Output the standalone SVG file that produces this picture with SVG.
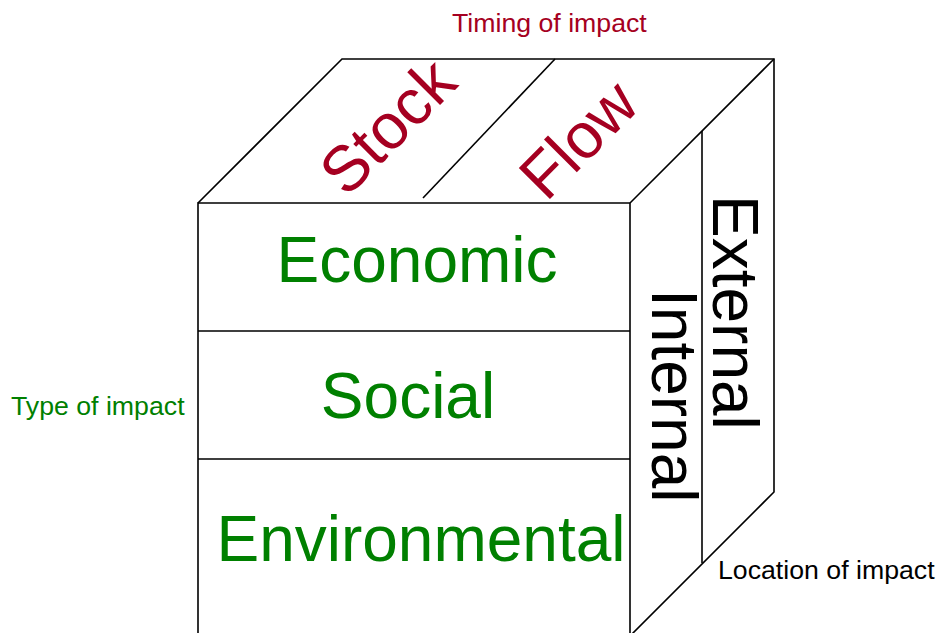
<svg xmlns="http://www.w3.org/2000/svg" width="937" height="633" viewBox="0 0 937 633">
<style>
.edge{fill:none;stroke:#000;stroke-width:1.6;stroke-linejoin:miter}
.big{font-family:"Liberation Sans",Arial,sans-serif;font-size:64px}
.small{font-family:"Liberation Sans",Arial,sans-serif;font-size:26.7px}
.red{fill:#a50021}
.green{fill:#008000}
.black{fill:#000}
</style>
<rect width="937" height="633" fill="#fff"/>
<g id="cube">
<path class="edge" d="M198,633 V203 H630 V633"/>
<path class="edge" d="M198,203 L342,59 H774 V492 L631,635"/>
<path class="edge" d="M630,203 L774,59"/>
<path class="edge" d="M555,59 L423,198"/>
<path class="edge" d="M702,131 V563"/>
<path class="edge" d="M198,331 H630 M198,459 H630"/>
</g>
<g id="timing-axis">
<text class="small red" x="452" y="32">Timing of impact</text>
<text class="big red" text-anchor="middle" transform="translate(403,142) rotate(-45)">Stock</text>
<text class="big red" text-anchor="middle" transform="translate(594,155) rotate(-45)">Flow</text>
</g>
<g id="type-axis">
<text class="small green" x="11" y="415">Type of impact</text>
<text class="big green" text-anchor="middle" x="417" y="282">Economic</text>
<text class="big green" text-anchor="middle" x="408" y="418">Social</text>
<text class="big green" text-anchor="middle" x="421" y="561">Environmental</text>
</g>
<g id="location-axis">
<text class="small black" x="718" y="579">Location of impact</text>
<text class="big black" transform="translate(652,289) rotate(90)">Internal</text>
<text class="big black" transform="translate(713,195) rotate(90)">External</text>
</g>
</svg>
